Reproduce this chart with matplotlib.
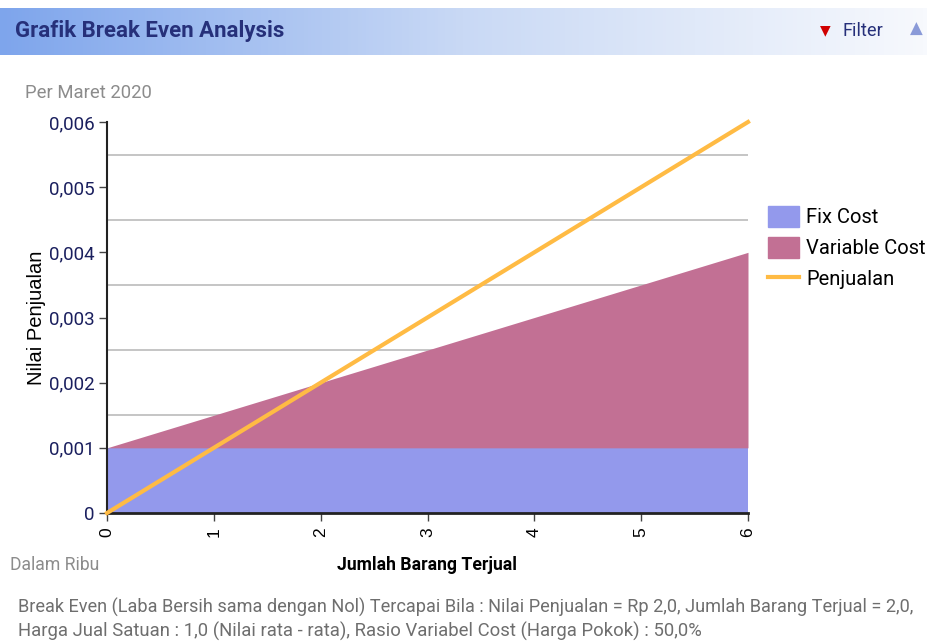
import numpy as np
import matplotlib.pyplot as plt
from matplotlib.patches import Patch
from matplotlib.lines import Line2D
from matplotlib.colors import LinearSegmentedColormap

# data
units = [0, 1, 2, 3, 4, 5, 6]
fix_cost = [0.001, 0.001, 0.001, 0.001, 0.001, 0.001, 0.001]
variable_cost = [0.0, 0.0005, 0.001, 0.0015, 0.002, 0.0025, 0.003]
penjualan = [0.0, 0.001, 0.002, 0.003, 0.004, 0.005, 0.006]
y_ticks = [0, 0.001, 0.002, 0.003, 0.004, 0.005, 0.006]
y_tick_labels = ["0", "0,001", "0,002", "0,003", "0,004", "0,005", "0,006"]
grid_vals = [0.0015, 0.0025, 0.0035, 0.0045, 0.0055]

narrow = ["Roboto", "DejaVu Sans"]
navy = "#1a1f5e"

fig = plt.figure(figsize=(9.27, 6.42), dpi=100)
W, H = 927, 642
renderer = fig.canvas.get_renderer()


def fit(t, width_px):
    # shrink/grow font so the text spans the same width as in the reference
    w = t.get_window_extent(renderer).width
    t.set_fontsize(t.get_fontsize() * width_px / w)
    return t


# header bar with gradient
hdr = fig.add_axes([0, 1 - 55 / H, 1, 47 / H])
grad = np.linspace(0, 1, 256).reshape(1, -1)
cmap = LinearSegmentedColormap.from_list("hdr", ["#7ea5ec", "#c9d9f5", "#f7f9fd"])
hdr.imshow(grad, aspect="auto", cmap=cmap, extent=[0, 1, 0, 1])
hdr.set_axis_off()
fit(fig.text(15 / W, 1 - 31 / H, "Grafik Break Even Analysis", family=narrow, fontsize=16,
             fontweight="bold", color="#26307a", va="center"), 270)
fig.text(820 / W, 1 - 30 / H, "\u25BC", color="#d00000", fontsize=10, va="center", family=["DejaVu Sans"])
fit(fig.text(842 / W, 1 - 31 / H, "Filter", family=narrow, fontsize=14, color="#26307a", va="center"), 41)
fig.text(910 / W, 1 - 29 / H, "\u25B2", color="#8a9ad8", fontsize=12, va="center", family=["DejaVu Sans"])

# main plot
x0, x1 = 107, 748
y0, y1 = 513, 122
ax = fig.add_axes([x0 / W, 1 - y0 / H, (x1 - x0) / W, (y0 - y1) / H])
fix = np.array(fix_cost)
var = fix + np.array(variable_cost)
for g in grid_vals:
    ax.axhline(g, color="#c0c0c0", lw=1.3, zorder=0)
ax.fill_between(units, 0, fix, color="#9399ec", lw=0, zorder=1, label="Fix Cost")
ax.fill_between(units, fix, var, color="#c27094", lw=0, zorder=1, label="Variable Cost")
ax.plot(units, penjualan, color="#ffbb44", lw=3, zorder=3, label="Penjualan", clip_on=False)
ax.set_xlim(0, 6)
ax.set_ylim(0, 0.006)
ax.set_yticks(y_ticks)
ax.set_yticklabels(y_tick_labels, family=narrow, fontsize=13.5, color=navy)
ax.set_xticks(units)
ax.set_xticklabels([str(u) for u in units], rotation=90, fontsize=12.5, family=["Liberation Sans"])
ax.tick_params(axis="both", length=6, width=1, color="#444444")
ax.tick_params(axis="y", pad=3)
ax.tick_params(axis="x", pad=4)
for s in ["top", "right"]:
    ax.spines[s].set_visible(False)
ax.spines["left"].set_color("#222222")
ax.spines["bottom"].set_color("#222222")
ax.spines["left"].set_linewidth(1.5)
ax.spines["bottom"].set_linewidth(2)
ax.set_ylabel("Nilai Penjualan", family=["Liberation Sans"], fontsize=14.5)
ax.yaxis.set_label_coords((46 - x0) / (x1 - x0), 0.5)

handles = [Patch(color="#9399ec"), Patch(color="#c27094"),
           Line2D([0], [0], color="#ffbb44", lw=3)]
fig.legend(handles, ["Fix Cost", "Variable Cost", "Penjualan"], loc="upper left",
           bbox_to_anchor=(768 / W, 1 - 206 / H), frameon=False,
           prop={"family": narrow, "size": 14.5}, handlelength=1.55, handleheight=1.2,
           handletextpad=0.35, labelspacing=0.5, borderaxespad=0, borderpad=0)

fit(fig.text(25 / W, 1 - 93 / H, "Per Maret 2020", family=narrow, fontsize=14,
             color="#8c8c8c", va="center"), 128)
fit(fig.text(10 / W, 1 - 565 / H, "Dalam Ribu", family=narrow, fontsize=14,
             color="#8c8c8c", va="center"), 90)
fit(fig.text(427 / W, 1 - 565 / H, "Jumlah Barang Terjual", family=narrow, fontsize=14,
             color="black", va="center", ha="center", fontweight="bold"), 180)
fit(fig.text(18 / W, 1 - 607 / H,
             "Break Even (Laba Bersih sama dengan Nol) Tercapai Bila : Nilai Penjualan = Rp 2,0, Jumlah Barang Terjual = 2,0,",
             family=narrow, fontsize=14, color="#6e6e6e", va="center"), 902)
fit(fig.text(18 / W, 1 - 631 / H,
             "Harga Jual Satuan : 1,0 (Nilai rata - rata), Rasio Variabel Cost (Harga Pokok) : 50,0%",
             family=narrow, fontsize=14, color="#6e6e6e", va="center"), 688)

fig.savefig("out.png", dpi=100)
